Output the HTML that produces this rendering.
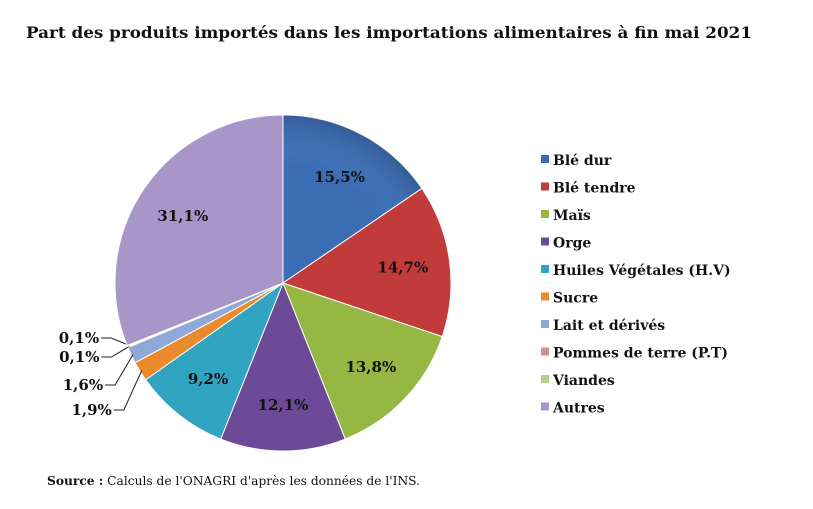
<!DOCTYPE html>
<html><head><meta charset="utf-8"><style>
body{margin:0;background:#fff;width:813px;height:505px;overflow:hidden;font-family:"DejaVu Serif","Liberation Serif",serif}
</style></head><body>
<svg width="813" height="505">
<defs><radialGradient id="sh" cx="0.5" cy="0.5" r="0.5"><stop offset="0.7" stop-color="#fff" stop-opacity="0"/><stop offset="1" stop-color="#000" stop-opacity="0.15"/></radialGradient></defs>
<text x="26" y="38" font-size="16" font-weight="bold" fill="#111" textLength="726" lengthAdjust="spacingAndGlyphs" font-family="DejaVu Serif, serif">Part des produits importés dans les importations alimentaires à fin mai 2021</text>
<g id="pie"></g>
<g id="legend"></g>
<text x="47" y="485" font-size="12" fill="#111" textLength="373" lengthAdjust="spacingAndGlyphs" font-family="DejaVu Serif, serif"><tspan font-weight="bold">Source :</tspan> Calculs de l'ONAGRI  d'après les données de l'INS.</text>
</svg>
<script>
const categories=["Blé dur","Blé tendre","Maïs","Orge","Huiles Végétales (H.V)","Sucre","Lait et dérivés","Pommes de terre (P.T)","Viandes","Autres"];
const values=[15.5,14.7,13.8,12.1,9.2,1.9,1.6,0.1,0.1,31.1];
const labels=["15,5%","14,7%","13,8%","12,1%","9,2%","1,9%","1,6%","0,1%","0,1%","31,1%"];
const colors=["#3b6db5","#c23b3b","#96b843","#6d4a97","#30a4c0","#ea8a2c","#8ea9d8","#d48f8f","#b7cd8d","#a896c9"];
const NS="http://www.w3.org/2000/svg";
const cx=283,cy=283,r=168;
const total=values.reduce((a,b)=>a+b,0);
function pt(a,rr){return [cx+rr*Math.sin(a),cy-rr*Math.cos(a)];}
const pie=document.getElementById('pie');
let acc=0;
const outsideY={5:410,6:385,7:357,8:338};
values.forEach((v,i)=>{
  const a0=acc/total*2*Math.PI;acc+=v;const a1=acc/total*2*Math.PI;
  const p0=pt(a0,r),p1=pt(a1,r);
  const path=document.createElementNS(NS,'path');
  path.setAttribute('d',`M${cx},${cy}L${p0[0]},${p0[1]}A${r},${r} 0 ${a1-a0>Math.PI?1:0} 1 ${p1[0]},${p1[1]}Z`);
  path.setAttribute('fill',colors[i]);path.setAttribute('stroke','#fff');path.setAttribute('stroke-width','1');
  
  
  pie.appendChild(path);
  const am=(a0+a1)/2;
  const t=document.createElementNS(NS,'text');
  t.setAttribute('font-size','15');t.setAttribute('font-weight','bold');t.setAttribute('fill','#111');
  if(i in outsideY){
    const pe=pt(am,r-2);const ly=outsideY[i];
    const ln=document.createElementNS(NS,'polyline');
    ln.setAttribute('points',`${pe[0]},${pe[1]} ${pe[0]-18},${ly} ${pe[0]-28},${ly}`);
    ln.setAttribute('fill','none');ln.setAttribute('stroke','#222');
    
    
    pie.appendChild(ln);
    t.setAttribute('x',pe[0]-30);t.setAttribute('y',ly+5);t.setAttribute('text-anchor','end');
  } else {
    const pl=pt(am,r*0.72);
    t.setAttribute('x',pl[0]);t.setAttribute('y',pl[1]+6);t.setAttribute('text-anchor','middle');
  }
  t.textContent=labels[i];
  
  
  pie.appendChild(t);
});
const sh=document.createElementNS(NS,'circle');
sh.setAttribute('cx',cx);sh.setAttribute('cy',cy);sh.setAttribute('r',r);sh.setAttribute('fill','url(#sh)');sh.setAttribute('pointer-events','none');


pie.insertBefore(sh,pie.querySelector('text'));
const lg=document.getElementById('legend');
categories.forEach((c,i)=>{
  const y=160+i*27.5;
  const g=document.createElementNS(NS,'g');
  
  
  const s=document.createElementNS(NS,'rect');
  s.setAttribute('x',541);s.setAttribute('y',y-5);s.setAttribute('width',8);s.setAttribute('height',8);s.setAttribute('fill',colors[i]);
  const t=document.createElementNS(NS,'text');
  t.setAttribute('x',553);t.setAttribute('y',y+5);t.setAttribute('font-size','14');t.setAttribute('font-weight','bold');t.setAttribute('fill','#111');
  t.textContent=c;
  g.appendChild(s);g.appendChild(t);lg.appendChild(g);
});
</script>
</body></html>
